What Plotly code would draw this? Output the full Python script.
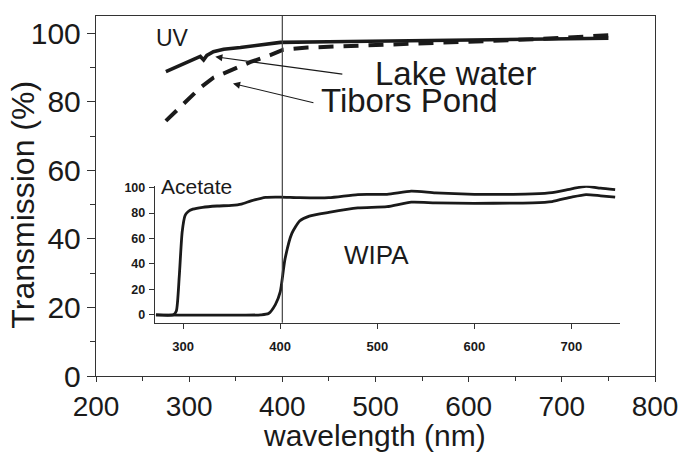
import plotly.graph_objects as go

# Main chart: water transmission
lake_x = [275, 294, 312, 315.5, 319, 326, 337, 355, 376, 398, 450, 500, 550, 600, 650, 700, 750]
lake_y = [88.8, 91.2, 93.2, 92.2, 93.5, 94.6, 95.3, 95.8, 96.6, 97.3, 97.5, 97.7, 97.9, 98.1, 98.2, 98.4, 98.5]

tibors_x = [275, 290, 312, 326, 351, 366, 387, 401, 427, 450, 500, 550, 600, 650, 700, 750]
tibors_y = [74.4, 78.4, 84.1, 87.0, 89.9, 91.6, 93.6, 95.2, 95.8, 96.0, 96.5, 97.0, 97.5, 98.0, 98.6, 99.4]

# Inset: filter transmission
acetate_x = [272, 290, 293, 296, 299, 302, 305, 310, 320, 335, 350, 360, 370, 385, 400, 420, 450, 480, 510, 535, 560, 600, 640, 660, 680, 700, 715, 730, 745]
acetate_y = [0, 0, 3, 30, 65, 78, 81, 83, 84.5, 85.5, 86, 87, 89.5, 92.3, 92.5, 92, 92, 94.5, 94.7, 97.2, 95.8, 94.7, 94.7, 95, 96, 99, 101, 99.5, 98.4]

wipa_x = [272, 380, 388, 395, 400, 405, 412, 420, 430, 450, 480, 510, 535, 560, 600, 640, 660, 680, 700, 715, 730, 745]
wipa_y = [0, 0, 1, 8, 18, 44, 64, 73.7, 77.6, 80.5, 84, 85, 88.5, 88, 87.6, 87.8, 88, 89, 92.5, 94.5, 93.5, 92.5]

x_ticks = [200, 300, 400, 500, 600, 700, 800]
y_ticks = [0, 20, 40, 60, 80, 100]
inset_x_ticks = [300, 400, 500, 600, 700]
inset_y_ticks = [0, 20, 40, 60, 80, 100]

FONT = "Liberation Sans, Arial, sans-serif"
INK = "#1a1a1a"

fig = go.Figure()
fig.add_trace(go.Scatter(x=lake_x, y=lake_y, mode="lines",
                         line=dict(color=INK, width=3.6), showlegend=False))
fig.add_trace(go.Scatter(x=tibors_x, y=tibors_y, mode="lines",
                         line=dict(color=INK, width=4, dash="15px,10px"), showlegend=False))
fig.add_trace(go.Scatter(x=acetate_x, y=acetate_y, mode="lines", xaxis="x2", yaxis="y2",
                         line=dict(color=INK, width=2.8, shape="spline", smoothing=0.6), showlegend=False))
fig.add_trace(go.Scatter(x=wipa_x, y=wipa_y, mode="lines", xaxis="x2", yaxis="y2",
                         line=dict(color=INK, width=2.8, shape="spline", smoothing=0.6), showlegend=False))

axis_col = "#333333"
fig.update_layout(
    width=685, height=452,
    margin=dict(l=96, r=30, t=11, b=76),
    paper_bgcolor="white", plot_bgcolor="white",
    font=dict(family=FONT, color=INK),
    xaxis=dict(range=[200, 800], tickvals=x_ticks, ticks="outside", ticklen=5, tickwidth=1.2,
               tickcolor=axis_col, showline=True, linecolor=axis_col, linewidth=1.4, mirror=True,
               showgrid=False, zeroline=False, tickfont=dict(size=28, color=INK), automargin=False,
               minor=dict(dtick=50, tick0=200, ticks="outside", ticklen=4, tickcolor=axis_col, showgrid=False)),
    yaxis=dict(range=[0, 105], tickvals=y_ticks, ticks="outside", ticklen=8, tickwidth=1.2,
               tickcolor=axis_col, showline=True, linecolor=axis_col, linewidth=1.4, mirror=True,
               showgrid=False, zeroline=False, tickfont=dict(size=30, color=INK), automargin=False,
               minor=dict(dtick=10, tick0=0, ticks="outside", ticklen=5, tickcolor=axis_col, showgrid=False)),
    xaxis2=dict(domain=[0.1055, 0.9374], anchor="y2", range=[271, 750], tickvals=inset_x_ticks,
                ticks="outside", ticklen=5, tickcolor=axis_col, showline=True, linecolor=axis_col,
                linewidth=1.4, showgrid=False, zeroline=False, ticklabelstandoff=6,
                tickfont=dict(size=13, color=INK, weight="bold")),
    yaxis2=dict(domain=[0.148, 0.5288], anchor="x2", range=[-6.2, 101.5], tickvals=inset_y_ticks,
                ticks="outside", ticklen=5, tickcolor=axis_col, showline=True, linecolor=axis_col,
                linewidth=1.4, showgrid=False, zeroline=False, ticklabelstandoff=1,
                tickfont=dict(size=12.5, color=INK, weight="bold")),
)

# axis titles
fig.add_annotation(x=0.499, y=-0.166, xref="paper", yref="paper", text="wavelength (nm)",
                   showarrow=False, font=dict(size=30, color=INK), xanchor="center", yanchor="middle")
fig.add_annotation(x=-0.1306, y=0.476, xref="paper", yref="paper", text="Transmission (%)",
                   showarrow=False, textangle=-90, font=dict(size=32, color=INK),
                   xanchor="center", yanchor="middle")

fig.add_shape(type="line", xref="x", yref="paper", x0=400, x1=400, y0=0.148, y1=1,
              line=dict(color="#444444", width=1.2))

# arrows
fig.add_annotation(x=328, y=93.1, ax=466, ay=88.0, xref="x", yref="y", axref="x", ayref="y",
                   text="", showarrow=True, arrowhead=2, arrowsize=1.3, arrowwidth=1.1, arrowcolor=INK)
fig.add_annotation(x=347, y=85.3, ax=435, ay=79.6, xref="x", yref="y", axref="x", ayref="y",
                   text="", showarrow=True, arrowhead=2, arrowsize=1.3, arrowwidth=1.1, arrowcolor=INK)

# labels
fig.add_annotation(x=282, y=98.6, xref="x", yref="y", text="UV", showarrow=False,
                   font=dict(size=23, color=INK))
fig.add_annotation(x=586, y=88.2, xref="x", yref="y", text="Lake water", showarrow=False,
                   font=dict(size=33, color=INK))
fig.add_annotation(x=537, y=80.4, xref="x", yref="y", text="Tibors Pond", showarrow=False,
                   font=dict(size=33, color=INK))
fig.add_annotation(x=314, y=101, xref="x2", yref="y2", text="Acetate", showarrow=False,
                   font=dict(size=21, color=INK))
fig.add_annotation(x=499, y=47, xref="x2", yref="y2", text="WIPA", showarrow=False,
                   font=dict(size=26, color=INK))

fig.write_html("out.html")
